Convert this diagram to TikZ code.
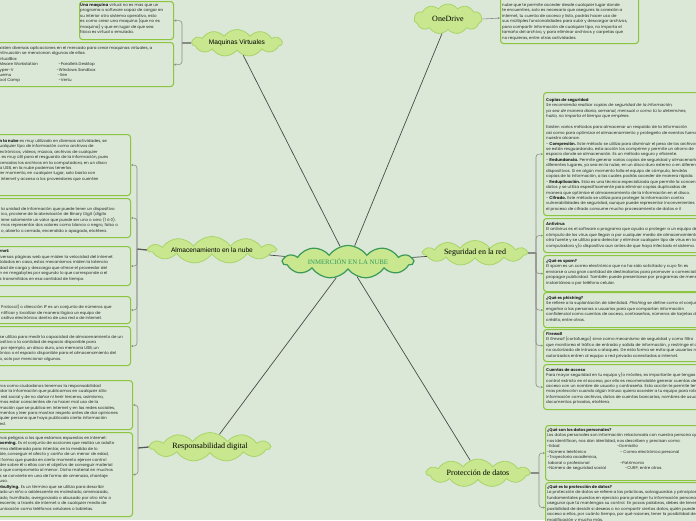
\documentclass[tikz,border=0pt]{standalone}
\usepackage{fontspec}
\setmainfont{Poppins}
\newfontfamily\lsans{Liberation Sans}
\newfontfamily\lserif{Liberation Serif}
\usetikzlibrary{shapes.symbols,arrows.meta}
\definecolor{bgc}{HTML}{DBE8D7}
\definecolor{cloudf}{HTML}{C8E78F}
\definecolor{cloudd}{HTML}{A9D46A}
\definecolor{centd}{HTML}{3C9A58}
\definecolor{centt}{HTML}{2F9A5C}
\definecolor{boxd}{HTML}{8CC640}
\definecolor{brkc}{HTML}{8C8C8C}
\definecolor{stubc}{HTML}{5A5A5A}
\definecolor{linec}{HTML}{4A4A4A}
\definecolor{txtc}{HTML}{262626}
\tikzset{
  topic/.style={cloud, cloud puffs=11, cloud puff arc=110, cloud ignores aspect, draw=cloudd, fill=cloudf, line width=0.8pt, inner sep=0pt, text=black},
  hubcloud/.style={topic, draw=centd, line width=1.2pt, text=centt},
  sanslabel/.style={font=\lsans\fontsize{6.6}{8}\selectfont},
  seriflabel/.style={font=\lserif\fontsize{8}{9}\selectfont},
  infobox/.style={draw=boxd, line width=1.1pt, rounded corners=3pt, fill=bgc, anchor=north west, inner sep=0pt},
  body/.style={anchor=north west, inner sep=0pt, align=left, font=\fontsize{4}{5.45}\selectfont, text=txtc},
  spoke/.style={draw=linec, line width=0.7pt},
  stubline/.style={draw=stubc, line width=1.3pt},
  brack/.style={draw=brkc, line width=0.6pt, rounded corners=3pt, -{Stealth[length=2.2pt,width=2.2pt]}},
}
\begin{document}
\begin{tikzpicture}[x=1pt,y=-1pt]
\fill[bgc] (0,0) rectangle (696,520);
\useasboundingbox (0,0) rectangle (696,520);
\clip (0,0) rectangle (696,520);

% ---------- clouds ----------
\node[hubcloud, minimum width=130, minimum height=33, font=\lserif\fontsize{6.8}{8}\selectfont] (hub) at (348,262) {INMERCIÓN EN LA NUBE};
\node[topic, sanslabel, minimum width=90, minimum height=27] (maq) at (237,43) {Maquinas Virtuales};
\node[topic, sanslabel, minimum width=127, minimum height=27] (alm) at (212,250) {Almacenamiento en la nube};
\node[topic, seriflabel, minimum width=120, minimum height=29] (resp) at (210,447) {Responsabilidad digital};
\node[topic, seriflabel, minimum width=68, minimum height=30] (oned) at (448,19) {OneDrive};
\node[topic, seriflabel, minimum width=104, minimum height=25] (seg) at (475,253) {Seguridad en la red};
\node[topic, seriflabel, minimum width=103, minimum height=28] (prot) at (478,473) {Protección de datos};

% ---------- spokes ----------
\draw[spoke] (hub) -- (maq);
\draw[spoke] (hub) -- (oned);
\draw[spoke] (hub) -- (alm);
\draw[spoke] (hub) -- (seg);
\draw[spoke] (hub) -- (resp);
\draw[spoke] (hub) -- (prot);

% ---------- boxes ----------
% Maquinas
\node[infobox, minimum width=94, minimum height=38] (mv1) at (79,1) {};
\node[infobox, minimum width=183, minimum height=44] (mv2) at (-10,42) {};
% Almacenamiento
\node[infobox, minimum width=140, minimum height=61] (a1) at (-10,134) {};
\node[infobox, minimum width=140, minimum height=39] (a2) at (-10,198) {};
\node[infobox, minimum width=140, minimum height=39] (a3) at (-10,246) {};
\node[infobox, minimum width=140, minimum height=27] (a4) at (-10,296) {};
\node[infobox, minimum width=140, minimum height=39] (a5) at (-10,326) {};
% Responsabilidad
\node[infobox, minimum width=142, minimum height=49] (r1) at (-10,380) {};
\node[infobox, minimum width=142, minimum height=84] (r2) at (-10,432) {};
% OneDrive
\node[infobox, minimum width=138, minimum height=51] (od) at (500,-8) {};
% Seguridad
\node[infobox, minimum width=170, minimum height=123] (s1) at (543,92) {};
\node[infobox, minimum width=170, minimum height=34] (s2) at (543,218) {};
\node[infobox, minimum width=170, minimum height=36] (s3) at (543,255) {};
\node[infobox, minimum width=170, minimum height=35] (s4) at (543,292) {};
\node[infobox, minimum width=170, minimum height=32] (s5) at (543,329) {};
\node[infobox, minimum width=170, minimum height=45] (s6) at (543,364) {};
% Proteccion
\node[infobox, minimum width=170, minimum height=55] (p1) at (545,425) {};
\node[infobox, minimum width=170, minimum height=50] (p2) at (545,482) {};

% ---------- brackets ----------
\coordinate (hmaq) at (182,43);
\draw[stubline] (maq.west) -- (hmaq);
\draw[brack] (hmaq) |- (mv1.east);
\draw[brack] (hmaq) |- (mv2.east);

\coordinate (halm) at (137,249);
\draw[stubline] (alm.west) -- (halm);
\foreach \b in {a1,a2,a3,a4,a5} \draw[brack] (halm) |- (\b.east);

\coordinate (hresp) at (138,448);
\draw[stubline] (resp.west) -- (hresp);
\foreach \b in {r1,r2} \draw[brack] (hresp) |- (\b.east);

\draw[brack] (oned.east) -- (od.west);

\coordinate (hseg) at (536,253);
\draw[stubline] (seg.east) -- (hseg);
\foreach \b in {s1,s2,s3,s4,s5,s6} \draw[brack] (hseg) |- (\b.west);

\coordinate (hprot) at (539,473);
\draw[stubline] (prot.east) -- (hprot);
\foreach \b in {p1,p2} \draw[brack] (hprot) |- (\b.west);

% ---------- texts ----------
\node[body] (tmv1) at (80,3) {\textbf{Una maquina} virtual no es mas que un\\
programa o software capaz de cargar en\\
su interior otro sistema operativo, esto\\
es como crear una maquina (que no es\\
maquina) y que en lugar de que sea\\
física es virtual o emulada.};

\node[body] (tmv2) at (-0.5,46) {xisten diversas aplicaciones en el mercado para crear maquinas virtuales, a\\
ntinuación se mencionan algunas de ellas:\\
irtualBox\\
\makebox[59pt][l]{Mware Workstation}-Parallels Desktop\\
\makebox[57pt][l]{yper-V}-Windows Sandbox\\
\makebox[58pt][l]{uemu}-Xen\\
\makebox[59pt][l]{oot Camp}-Vertu};

\node[body] (ta1) at (-0.5,139) {\textbf{n la nube} es muy utilizado en diversas actividades, se\\
ualquier tipo de información como archivos de\\
ectrónicos, videos, música, archivos de cualquier\\
, es muy útil para el resguardo de la información, pues\\
cenados los archivos en la computadora, en un disco\\
a USB, en la nube podemos tenerlos\\
ier momento, en cualquier lugar, solo basta con\\
\ internet y acceso a los proveedores que cuenten};

\node[body] (ta2) at (1,207) {la unidad de información que puede tener un dispositivo\\
ico, proviene de la abreviación de Binary Digit (dígito\\
iene solamente un valor que puede ser uno o cero (1 ó 0).\\
mos representar dos valores como blanco o negro, falso o\\
o, abierto o cerrado, encendido o apagado, etcétera.};

\node[body] (ta3) at (-0.5,250) {\textbf{rnet:}\\
iversas páginas web que miden la velocidad del internet\\
talados en casa, estos mecanismos miden la latencia\\
dad de carga y descarga que ofrece el proveedor del\\
n en megabytes por segundo lo que corresponde a el\\
s transmitidos en esa cantidad de tiempo.};

\node[body] (ta4) at (1,305) {Protocol) o dirección IP es un conjunto de números que\\
ntificar y localizar de manera lógica un equipo de\\
ositivo electrónico dentro de una red o de internet.};

\node[body] (ta5) at (-0.5,335) {se utiliza para medir la capacidad de almacenamiento de un\\
ositivo o la cantidad de espacio disponible para\\
\ por ejemplo, un disco duro, una memoria USB, un\\
ónico o el espacio disponible para el almacenamiento del\\
o, solo por mencionar algunos.};

\node[body] (tr1) at (-0.5,384) {ros como ciudadanos tenemos la responsabilidad\\
idar la información que publicamos en cualquier sitio\\
\ red social y de no dañar ni herir terceros, asimismo,\\
mos estar conscientes de no hacer mal uso de la\\
mación que se publica en internet y en las redes sociales,\\
mentos y leer para mostrar respeto antes de dar opiniones\\
quier persona que haya publicado cierta información\\
ed.};

\node[body] (tr2) at (-0.5,436) {nos peligros a los que estamos expuestos en internet:\\
\textbf{ooming.} Es el conjunto de acciones que realiza un adulto\\
rma deliberada para intentar, en la medida de lo\\
ble, conseguir el afecto y cariño de un menor de edad,\\
l forma que pueda en cierto momento ejercer control\\
der sobre él o ellas con el objetivo de conseguir material\\
o que comprometa al menor. Dicho material en muchos\\
s se convierte en una de forma de amenaza, chantaje\\
uso.\\
\textbf{rbullying.} Es un término que se utiliza para describir\\
ado un niño o adolescente es molestado, amenazado,\\
ado, humillado, avergonzado o abusado por otro niño o\\
escente, a través de internet o de cualquier medio de\\
unicación como teléfonos celulares o tabletas.};

\node[body] (tod) at (502,-2.5) {\textbf{OneDrive} es un servicio de almacenamiento en la\\
nube que te permite acceder desde cualquier lugar donde\\
te encuentres, solo es necesario que asegures la conexión a\\
Internet, tu cuenta de acceso y listo, podrás hacer uso de\\
sus múltiples funcionalidades para subir y descargar archivos,\\
para compartir información de cualquier tipo, no importa el\\
tamaño del archivo, y para eliminar archivos y carpetas que\\
no requieras, entre otras actividades.};

\node[body] (ts1) at (546,98) {\textbf{Copias de seguridad}\\
\textit{Se recomienda realizar copias de seguridad de la información,}\\
\textit{ya sea de manera diaria, semanal, mensual o como tú lo determines,}\\
\textit{hazlo, no importa el tiempo que emplees.}\\
\mbox{}\\
Existen varios métodos para almacenar un respaldo de la información\\
así como para optimizar el almacenamiento y protegerlo de eventos fuera de\\
nuestro alcance.\\
- \textbf{Compresión.} Este método se utiliza para disminuir el peso de los archivos que\\
se están resguardando, esta acción los comprime y permite un ahorro de\\
espacio donde se almacenarán. Es un método seguro y eficiente.\\
- \textbf{Redundancia.} Permite generar varias copias de seguridad y almacenarlas en\\
diferentes lugares, ya sea en la nube, en un disco duro externo o en diferentes\\
dispositivos. Si en algún momento falla el equipo de cómputo, tendrás\\
copias de la información, a las cuales podrás acceder de manera rápida.\\
- \textbf{Reduplicación.} Esta es una técnica especializada que permite la concentración de\\
datos y se utiliza específicamente para eliminar copias duplicadas de\\
manera que optimice el almacenamiento de la información en el disco.\\
- \textbf{Cifrado.} Este método se utiliza para proteger la información contra\\
vulnerabilidades de seguridad, aunque puede representar inconvenientes\\
el proceso de cifrado consume mucho procesamiento de datos e il};

\node[body] (ts2) at (546,222) {\textbf{Antivirus}\\
El antivirus es el software o programa que ayuda a proteger a un equipo de\\
cómputo de los virus que llegan a por cualquier medio de almacenamiento u\\
otra fuente y se utiliza para detectar y eliminar cualquier tipo de virus en la\\
computadora y/o dispositivo aun antes de que haya infectado el sistema.};

\node[body] (ts3) at (546,259) {\textbf{¿Qué es spam?}\\
El spam es un correo electrónico que no ha sido solicitado y cuyo fin es\\
enviarse a una gran cantidad de destinatarios para promover o comercializar\\
propagar publicidad. También puede presentarse por programas de mensajería\\
instantánea o por teléfono celular.};

\node[body] (ts4) at (546,296) {\textbf{¿Qué es phishing?}\\
Se refiere a la suplantación de identidad. \textit{Phishing} se define como el conjunto de\\
engañar a las personas o usuarios para que compartan información\\
confidencial como cuentas de acceso, contraseñas, números de tarjetas de\\
crédito, entre otras.};

\node[body] (ts5) at (546,332) {\textbf{Firewall}\\
El \textit{firewall} (cortafuego) sirve como mecanismo de seguridad y como filtro\\
que monitorea el tráfico de entrada y salida de información, y restringe el acceso\\
no autorizado de intrusos o ataques. De esta forma se evita que usuarios no\\
autorizados entren al equipo o red privada conectadas a internet.};

\node[body] (ts6) at (546,368) {\textbf{Cuentas de acceso}\\
Para mayor seguridad en tu equipo y/o móviles, es importante que tengas un\\
control estricto en el acceso, por ello es recomendable generar cuentas de\\
acceso con un nombre de usuario y contraseña. Esta acción te permite tener\\
mas protección cuando algún intruso quiera acceder a tu equipo para robar\\
información como archivos, datos de cuentas bancarias, nombres de usuario,\\
documentos privados, etcétera.};

\node[body] (tp1) at (547,428) {\textbf{¿Qué son los datos personales?}\\
Los datos personales son información relacionada con nuestra persona que\\
nos identifican, nos dan identidad, nos describen y precisan como:\\
\makebox[70pt][l]{-Edad}-Domicilio\\
\makebox[73pt][l]{-Número telefónico}- Correo electrónico personal\\
-Trayectoria académica,\\
\makebox[73pt][l]{\ laboral o profesional}-Patrimonio\\
\makebox[78pt][l]{-Número de seguridad social}-CURP, entre otros.};

\node[body] (tp2) at (547,485) {\textbf{¿Qué es la protección de datos?}\\
La protección de datos se refiere a las prácticas, salvaguardas y principios\\
fundamentales puestos en ejercicio para proteger tu información personal y\\
asegurar que tú mantengas su control. En pocas palabras, debes de tener la\\
posibilidad de decidir si deseas o no compartir ciertos datos, quién puede tener\\
acceso a ellos, por cuánto tiempo, por qué razones, tener la posibilidad de\\
modificación y mucho más.};
\end{tikzpicture}
\end{document}
